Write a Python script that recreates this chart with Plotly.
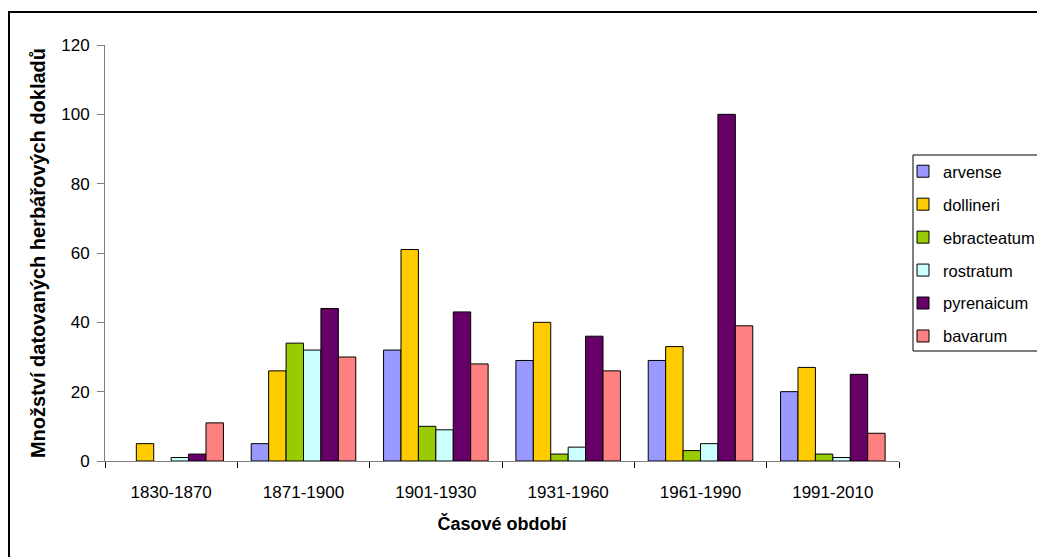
import plotly.graph_objects as go

# Time periods and herbarium record counts per taxon
periods = ["1830-1870", "1871-1900", "1901-1930", "1931-1960", "1961-1990", "1991-2010"]

arvense = [0, 5, 32, 29, 29, 20]
dollineri = [5, 26, 61, 40, 33, 27]
ebracteatum = [0, 34, 10, 2, 3, 2]
rostratum = [1, 32, 9, 4, 5, 1]
pyrenaicum = [2, 44, 43, 36, 100, 25]
bavarum = [11, 30, 28, 26, 39, 8]

series = [
    ("arvense", arvense, "#9999FF"),
    ("dollineri", dollineri, "#FFCC00"),
    ("ebracteatum", ebracteatum, "#99CC00"),
    ("rostratum", rostratum, "#CCFFFF"),
    ("pyrenaicum", pyrenaicum, "#660066"),
    ("bavarum", bavarum, "#FF8080"),
]

FONT = "Arial, Liberation Sans, sans-serif"
W, H = 1037, 557
L, R, T, B = 105, 138, 45, 96

fig = go.Figure()
for i, (name, vals, color) in enumerate(series):
    # empty counts are left undrawn so no outline sits on the baseline
    fig.add_trace(go.Bar(
        x=periods, y=[v if v else None for v in vals], name=name, legendgroup=f"g{i}",
        marker=dict(color=color, line=dict(color="#000000", width=1)),
    ))

pw = W - L - R
ph = H - T - B

def px_x(x):
    return (x - L) / pw

def px_y(y):
    return (H - B - y) / ph

fig.update_layout(
    width=W, height=H,
    margin=dict(l=L, r=R, t=T, b=B, pad=0, autoexpand=False),
    paper_bgcolor="white", plot_bgcolor="white",
    barmode="group", bargap=0.21, bargroupgap=0,
    font=dict(family=FONT, size=17, color="#000000"),
    showlegend=True,
    legend=dict(
        xref="container", yref="container",
        x=903 / W, y=1 - 154 / H, xanchor="left", yanchor="top",
        borderwidth=0, bgcolor="rgba(0,0,0,0)",
        font=dict(family=FONT, size=16.5, color="#000000"),
        tracegroupgap=8.5, itemwidth=30,
    ),
    xaxis=dict(
        type="category", tickson="boundaries",
        showline=True, linecolor="#808080", linewidth=1,
        ticks="outside", ticklen=6, tickcolor="#000000",
        showgrid=False, zeroline=False,
        tickfont=dict(family=FONT, size=17),
        ticklabelstandoff=16,
        title=dict(text="<b>Časové období</b>", font=dict(family=FONT, size=18), standoff=15),
        automargin=False,
    ),
    yaxis=dict(
        range=[0, 120], tickvals=[0, 20, 40, 60, 80, 100, 120],
        showline=True, linecolor="#808080", linewidth=1,
        ticks="outside", ticklen=7, tickcolor="#808080",
        showgrid=False, zeroline=False,
        tickfont=dict(family=FONT, size=17),
        ticklabelstandoff=4,
        title=dict(text="<b>Množství datovaných herbářových dokladů</b>", font=dict(family=FONT, size=20), standoff=10),
        automargin=False,
    ),
    shapes=[
        # chart frame
        dict(type="rect", xref="paper", yref="paper",
             x0=px_x(9), x1=px_x(1060), y0=px_y(580), y1=px_y(12),
             line=dict(color="#000000", width=2), fillcolor="rgba(0,0,0,0)", layer="below"),
        # legend frame
        dict(type="rect", xref="paper", yref="paper",
             x0=px_x(913), x1=px_x(1060), y0=px_y(351), y1=px_y(155),
             line=dict(color="#000000", width=1), fillcolor="white", layer="below"),
    ],
)

fig.write_html("out.html")
